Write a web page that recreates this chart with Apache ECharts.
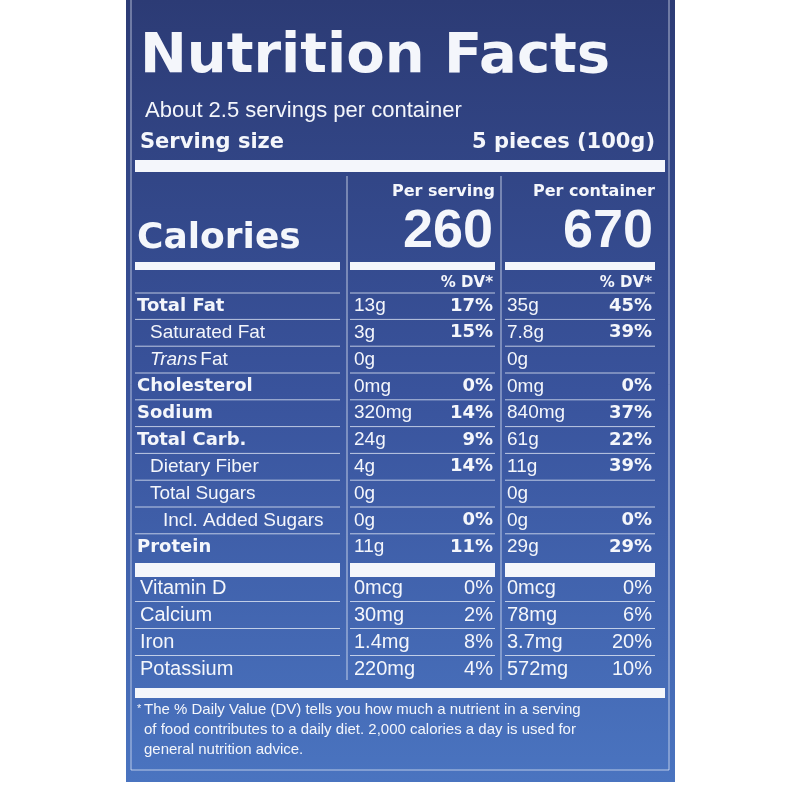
<!DOCTYPE html>
<html><head><meta charset="utf-8">
<script src="https://cdn.jsdelivr.net/npm/echarts@6/dist/echarts.min.js"></script>
<style>html,body{margin:0;padding:0;background:#fff}#c{width:800px;height:800px}</style>
</head><body><div id="c"></div>
<script>
const nutrients = ["Total Fat","Saturated Fat","Trans Fat","Cholesterol","Sodium","Total Carb.","Dietary Fiber","Total Sugars","Incl. Added Sugars","Protein"];
const indent = [0,1,1,0,0,0,1,1,2,0];
const servingAmt = ["13g","3g","0g","0mg","320mg","24g","4g","0g","0g","11g"];
const servingDV = ["17%","15%","","0%","14%","9%","14%","","0%","11%"];
const containerAmt = ["35g","7.8g","0g","0mg","840mg","61g","11g","0g","0g","29g"];
const containerDV = ["45%","39%","","0%","37%","22%","39%","","0%","29%"];
const vitamins = ["Vitamin D","Calcium","Iron","Potassium"];
const vitServingAmt = ["0mcg","30mg","1.4mg","220mg"];
const vitServingDV = ["0%","2%","8%","4%"];
const vitContainerAmt = ["0mcg","78mg","3.7mg","572mg"];
const vitContainerDV = ["0%","6%","20%","10%"];
const caloriesServing = "260", caloriesContainer = "670";
const footnote = ["The % Daily Value (DV) tells you how much a nutrient in a serving","of food contributes to a daily diet. 2,000 calories a day is used for","general nutrition advice."];

const F = "'Liberation Sans', Arial, sans-serif";
const FB = "'DejaVu Sans', sans-serif";
const W = '#f4f6fb';
const els = [];
function T(x,y,s,size,opt){opt=opt||{};const fam=opt.heavy?FB:F;els.push({type:'text',x:x,y:y,style:{text:s,fill:W,font:(opt.italic?'italic ':'')+((opt.bold||opt.heavy)?'bold ':'')+size+'px '+fam,textAlign:opt.align||'left',textVerticalAlign:'middle'},z:5});}
function R(x,y,w,h){els.push({type:'rect',shape:{x:x,y:y,width:w,height:h},style:{fill:W},z:4});}
function L(x1,y1,x2,y2,lw){els.push({type:'line',shape:{x1:x1,y1:y1,x2:x2,y2:y2},style:{stroke:'rgba(235,240,250,0.75)',lineWidth:lw||1},z:4});}

els.push({type:'rect',shape:{x:126,y:0,width:549,height:782},style:{fill:new echarts.graphic.LinearGradient(0,0,0,1,[{offset:0,color:'#2c3b75'},{offset:0.5,color:'#39539c'},{offset:1,color:'#4a74c0'}])},z:1});
els.push({type:'rect',shape:{x:131,y:-5,width:538,height:775},style:{fill:'none',stroke:'rgba(235,240,250,0.7)',lineWidth:1},z:2});

T(140,57,'Nutrition Facts',56,{heavy:true});
T(145,111,'About 2.5 servings per container',22);
T(140,143,'Serving size',21,{heavy:true});
T(655,143,'5 pieces (100g)',21,{heavy:true,align:'right'});
R(135,160,530,12);
L(347,176,347,680); L(501,176,501,680);
T(495,192,'Per serving',16,{heavy:true,align:'right'});
T(655,192,'Per container',16,{heavy:true,align:'right'});
T(493,232,caloriesServing,54,{bold:true,align:'right'});
T(653,232,caloriesContainer,54,{bold:true,align:'right'});
T(137,239,'Calories',36,{heavy:true});
R(135,262,205,8); R(350,262,145,8); R(505,262,150,8);
T(493,283,'% DV*',15,{heavy:true,align:'right'});
T(652,283,'% DV*',15,{heavy:true,align:'right'});
L(135,293,340,293); L(350,293,495,293); L(505,293,655,293);

const y0=306, dy=26.8;
nutrients.forEach(function(n,i){
  const y=y0+i*dy, bold=indent[i]===0, x=[137,150,163][indent[i]];
  if(n==='Trans Fat'){T(x,y,'Trans',19,{italic:true});T(x+45,y,' Fat',19);}
  else if(bold) T(x,y,n,18,{heavy:true});
  else T(x,y,n,19);
  T(354,y,servingAmt[i],19); T(493,y,servingDV[i],18,{heavy:true,align:'right'});
  T(507,y,containerAmt[i],19); T(652,y,containerDV[i],18,{heavy:true,align:'right'});
  if(i<nutrients.length-1){const ly=y+dy/2; L(135,ly,340,ly); L(350,ly,495,ly); L(505,ly,655,ly);}
});
R(135,563,205,14); R(350,563,145,14); R(505,563,150,14);
vitamins.forEach(function(n,i){
  const y=588+i*27;
  T(140,y,n,20); T(354,y,vitServingAmt[i],20); T(493,y,vitServingDV[i],20,{align:'right'});
  T(507,y,vitContainerAmt[i],20); T(652,y,vitContainerDV[i],20,{align:'right'});
  if(i<vitamins.length-1){const ly=y+13.5; L(135,ly,340,ly); L(350,ly,495,ly); L(505,ly,655,ly);}
});
R(135,688,530,10);
T(137,709,'*',11);
footnote.forEach(function(s,i){T(144,710+i*20,s,15);});

const chart = echarts.init(document.getElementById('c'));
chart.setOption({backgroundColor:'#ffffff',graphic:{elements:els}});
</script></body></html>
